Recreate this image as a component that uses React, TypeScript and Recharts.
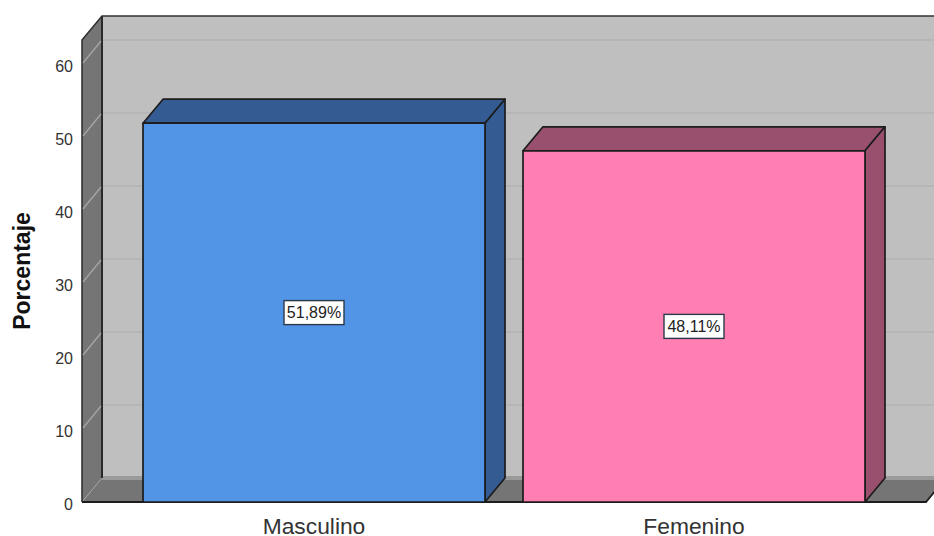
import { Bar, BarChart, LabelList, ReferenceArea, ReferenceLine, XAxis, YAxis } from "recharts";

const categories = ["Masculino", "Femenino"];
const percentages = [51.89, 48.11];
const yTicks = [0, 10, 20, 30, 40, 50, 60];
const gridValues = [10, 20, 30, 40, 50, 60];

const frontColors = ["#5294E6", "#FF7FB2"];
const shadeColors = ["#355C92", "#99506F"];
const EDGE = "#1C1C1C";
const DX = 20;
const DY = 24;
const X_PAD = 42;
const FONT = '"Liberation Sans", Arial, sans-serif';

const data = categories.map((name, i) => ({ name, value: percentages[i] }));

// the reference area only spans the padded band range, so widen it back to the full plot
function Walls({ x: bandX, y, width: bandW, height }: any) {
  const x = bandX - X_PAD;
  const width = bandW + X_PAD * 2;
  const right = x + width;
  const bottom = y + height;
  const top = y - DY;
  return (
    <g>
      <rect x={x + DX} y={top - DY} width={width + DX} height={height + DY} fill="#BFBFBF" />
      <polygon
        points={`${x},${top} ${x + DX},${top - DY} ${x + DX},${bottom - DY} ${x},${bottom}`}
        fill="#757575"
      />
      <polygon
        points={`${x},${bottom} ${x + DX},${bottom - DY} ${right + DX},${bottom - DY} ${right},${bottom}`}
        fill="#757575"
      />
      <rect x={x + DX} y={bottom - DY - 2} width={width + DX} height={4} fill="#9A9A9A" />
      <line x1={x} y1={bottom} x2={x + DX} y2={bottom - DY} stroke="#A0A0A0" strokeWidth={1} />
      <polyline
        points={`${x},${bottom} ${x},${top} ${x + DX},${top - DY} ${right + DX},${top - DY}`}
        fill="none"
        stroke="#333333"
        strokeWidth={1.6}
      />
      <line x1={x + DX} y1={top - DY} x2={x + DX} y2={bottom - DY} stroke="#2A2A2A" strokeWidth={2} />
      <polyline
        points={`${x},${bottom} ${right},${bottom} ${right + DX},${bottom - DY}`}
        fill="none"
        stroke={EDGE}
        strokeWidth={1.8}
      />
    </g>
  );
}

function GridLine({ x1, y1, x2 }: any) {
  return (
    <g fill="none">
      <line x1={x1 + 1} y1={y1 - 1} x2={x1 + DX - 1} y2={y1 - DY + 1} stroke="#A8A8A8" strokeWidth={1.2} />
      <line x1={x1 + DX + 1} y1={y1 - DY} x2={x2 + DX} y2={y1 - DY} stroke="#B3B3B3" strokeWidth={1.5} />
    </g>
  );
}

function Box3D({ x, y, width, height, index }: any) {
  const r = x + width;
  const b = y + height;
  return (
    <g stroke={EDGE} strokeWidth={1.7} strokeLinejoin="round">
      <polygon
        points={`${x},${y} ${x + DX},${y - DY} ${r + DX},${y - DY} ${r},${y}`}
        fill={shadeColors[index]}
      />
      <polygon
        points={`${r},${y} ${r + DX},${y - DY} ${r + DX},${b - DY} ${r},${b}`}
        fill={shadeColors[index]}
      />
      <rect x={x} y={y} width={width} height={height} fill={frontColors[index]} />
    </g>
  );
}

function ValueLabel({ x, y, width, height, value }: any) {
  const cx = x + width / 2;
  const cy = y + height / 2;
  const boxW = 60;
  const boxH = 24;
  return (
    <g>
      <rect
        x={cx - boxW / 2}
        y={cy - boxH / 2}
        width={boxW}
        height={boxH}
        fill="#FFFFFF"
        stroke="#2B3A4A"
        strokeWidth={1.4}
      />
      <text x={cx} y={cy + 5.5} textAnchor="middle" fontFamily={FONT} fontSize={16} fill="#222222">
        {String(value).replace(".", ",") + "%"}
      </text>
    </g>
  );
}

function YTick({ x, y, payload }: any) {
  return (
    <text x={x} y={y + 7.5} textAnchor="end" fontFamily={FONT} fontSize={16} fill="#333333">
      {payload.value}
    </text>
  );
}

function XTick({ x, y, payload }: any) {
  return (
    <text x={x} y={y + 24} textAnchor="middle" fontFamily={FONT} fontSize={22.8} fill="#333333">
      {payload.value}
    </text>
  );
}

function YTitle() {
  return (
    <text
      transform="translate(30,271) rotate(-90)"
      textAnchor="middle"
      fontFamily={FONT}
      fontSize={23}
      fontWeight="bold"
      fill="#111111"
    >
      Porcentaje
    </text>
  );
}

export default function App() {
  return (
    <div style={{ position: "absolute", left: 0, top: 0, width: 934, height: 536, background: "#fff" }}>
      <BarChart
        width={934}
        height={536}
        data={data}
        margin={{ top: 64, right: 8, bottom: 0, left: 0 }}
        barCategoryGap={0}
      >
        <XAxis
          dataKey="name"
          height={34}
          axisLine={false}
          tickLine={false}
          padding={{ left: X_PAD, right: X_PAD }}
          tick={<XTick />}
          interval={0}
        />
        <YAxis
          width={82}
          domain={[0, 60]}
          ticks={yTicks}
          axisLine={false}
          tickLine={false}
          tickSize={0}
          tickMargin={9}
          tick={<YTick />}
          label={<YTitle />}
        />
        <ReferenceArea y1={0} y2={60} ifOverflow="visible" shape={<Walls />} zIndex={-200} />
        {gridValues.map((v) => (
          <ReferenceLine key={v} y={v} ifOverflow="visible" shape={<GridLine />} zIndex={-150} />
        ))}
        <Bar dataKey="value" barSize={342} isAnimationActive={false} shape={<Box3D />}>
          <LabelList dataKey="value" content={<ValueLabel />} />
        </Bar>
      </BarChart>
    </div>
  );
}
